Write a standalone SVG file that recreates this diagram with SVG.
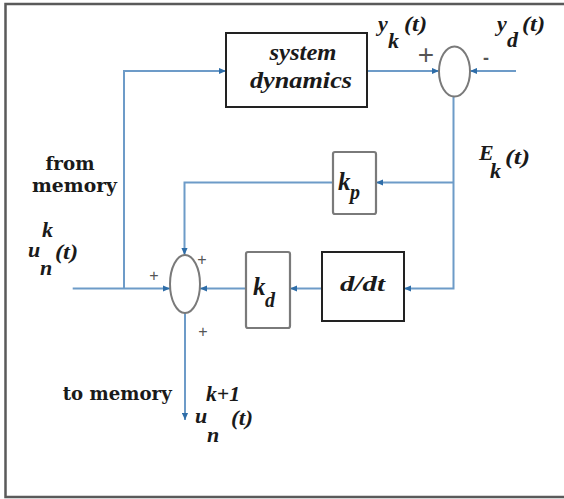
<svg xmlns="http://www.w3.org/2000/svg" width="564" height="499" viewBox="0 0 564 499">
<defs>
<style>
.wire{fill:none;stroke:#6d9bc8;stroke-width:2}
.blk{fill:#fff;stroke:#222;stroke-width:2}
.gry{fill:#fff;stroke:#7a7a7a;stroke-width:2.2}
.sum{fill:#fff;stroke:#7a7a7a;stroke-width:2}
.bi{font-family:"Liberation Serif",serif;font-weight:bold;font-style:italic;fill:#1a1a1a}
.m{font-family:"Liberation Serif",serif;font-weight:bold;font-style:italic;fill:#1a1a1a;font-size:22px}
.b{font-family:"DejaVu Serif","Liberation Serif",serif;font-weight:bold;fill:#1a1a1a}
.sg{font-family:"Liberation Sans",sans-serif;fill:#555;text-anchor:middle}
.frame{stroke:#5a5a5a;stroke-width:2.5;fill:none}
</style>
<marker id="ah" viewBox="0 0 8 8" refX="8" refY="4" markerWidth="7" markerHeight="7" markerUnits="userSpaceOnUse" orient="auto">
<path d="M0,0.5 L8,4 L0,7.5 z" fill="#2e6da8"/>
</marker>
</defs>
<rect width="564" height="499" fill="#fff"/>
<path class="frame" d="M564 4 H5.5 V497 H564"/>

<g id="connectors">
<path class="wire" d="M72.7 288.5 H170" marker-end="url(#ah)"/>
<path class="wire" d="M124 288.5 V71 H226" marker-end="url(#ah)"/>
<path class="wire" d="M367 71 H439" marker-end="url(#ah)"/>
<path class="wire" d="M516 71 H470" marker-end="url(#ah)"/>
<path class="wire" d="M453.5 96.5 V288.5 H404" marker-end="url(#ah)"/>
<path class="wire" d="M453.5 182.5 H376" marker-end="url(#ah)"/>
<path class="wire" d="M333 182.5 H184.5 V255" marker-end="url(#ah)"/>
<path class="wire" d="M322 288.5 H290" marker-end="url(#ah)"/>
<path class="wire" d="M246 288.5 H200" marker-end="url(#ah)"/>
<path class="wire" d="M185 313 V420" marker-end="url(#ah)"/>
</g>

<g id="system-dynamics">
<rect class="blk" x="226" y="33" width="141" height="74"/>
<text class="bi" x="303" y="60" font-size="23" text-anchor="middle" textLength="67" lengthAdjust="spacingAndGlyphs">system</text>
<text class="bi" x="301" y="88" font-size="23" text-anchor="middle" textLength="102" lengthAdjust="spacingAndGlyphs">dynamics</text>
</g>

<g id="sum-error">
<ellipse class="sum" cx="454.5" cy="71.5" rx="15.5" ry="25"/>
<text class="sg" x="426" y="64" font-size="28" fill="#444">+</text>
<text class="sg" x="486" y="64" font-size="18" font-weight="bold" fill="#333">-</text>
</g>

<g id="sum-control">
<ellipse class="sum" cx="185" cy="284" rx="15" ry="29"/>
<text class="sg" x="202" y="265" font-size="16">+</text>
<text class="sg" x="154" y="281" font-size="16">+</text>
<text class="sg" x="203" y="337" font-size="16">+</text>
</g>

<g id="kp">
<rect class="gry" x="333" y="152" width="43" height="62" rx="2"/>
<text class="bi" x="338" y="190" font-size="25">k</text>
<text class="bi" x="350" y="199" font-size="20">p</text>
</g>

<g id="kd">
<rect class="gry" x="246" y="252" width="44" height="76" rx="2"/>
<text class="bi" x="253" y="295" font-size="25">k</text>
<text class="bi" x="265" y="307" font-size="20">d</text>
</g>

<g id="ddt">
<rect class="blk" x="322" y="252" width="82" height="69"/>
<text class="bi" x="340" y="291" font-size="22" textLength="45" lengthAdjust="spacingAndGlyphs">d/dt</text>
</g>

<g id="labels">
<text class="m" x="378" y="31">y</text>
<text class="m" x="388" y="48">k</text>
<text class="m" x="404" y="31" textLength="23" lengthAdjust="spacingAndGlyphs">(t)</text>

<text class="m" x="497" y="31">y</text>
<text class="m" x="507" y="47">d</text>
<text class="m" x="522" y="31" textLength="23" lengthAdjust="spacingAndGlyphs">(t)</text>

<text class="m" x="479" y="160">E</text>
<text class="m" x="490" y="178">k</text>
<text class="m" x="505" y="164" textLength="25" lengthAdjust="spacingAndGlyphs">(t)</text>

<text class="b" x="70" y="170" font-size="18" text-anchor="middle" textLength="49" lengthAdjust="spacingAndGlyphs">from</text>
<text class="b" x="74.5" y="192" font-size="18" text-anchor="middle" textLength="85" lengthAdjust="spacingAndGlyphs">memory</text>

<text class="m" x="42" y="237">k</text>
<text class="m" x="28" y="257">u</text>
<text class="m" x="55" y="259" textLength="23" lengthAdjust="spacingAndGlyphs">(t)</text>
<text class="m" x="40" y="275">n</text>

<text class="b" x="62.7" y="400" font-size="18" textLength="109" lengthAdjust="spacingAndGlyphs">to memory</text>

<text class="m" x="206" y="401" textLength="34" lengthAdjust="spacingAndGlyphs">k+1</text>
<text class="m" x="195" y="423">u</text>
<text class="m" x="231" y="425" textLength="22" lengthAdjust="spacingAndGlyphs">(t)</text>
<text class="m" x="207" y="442">n</text>
</g>
</svg>
